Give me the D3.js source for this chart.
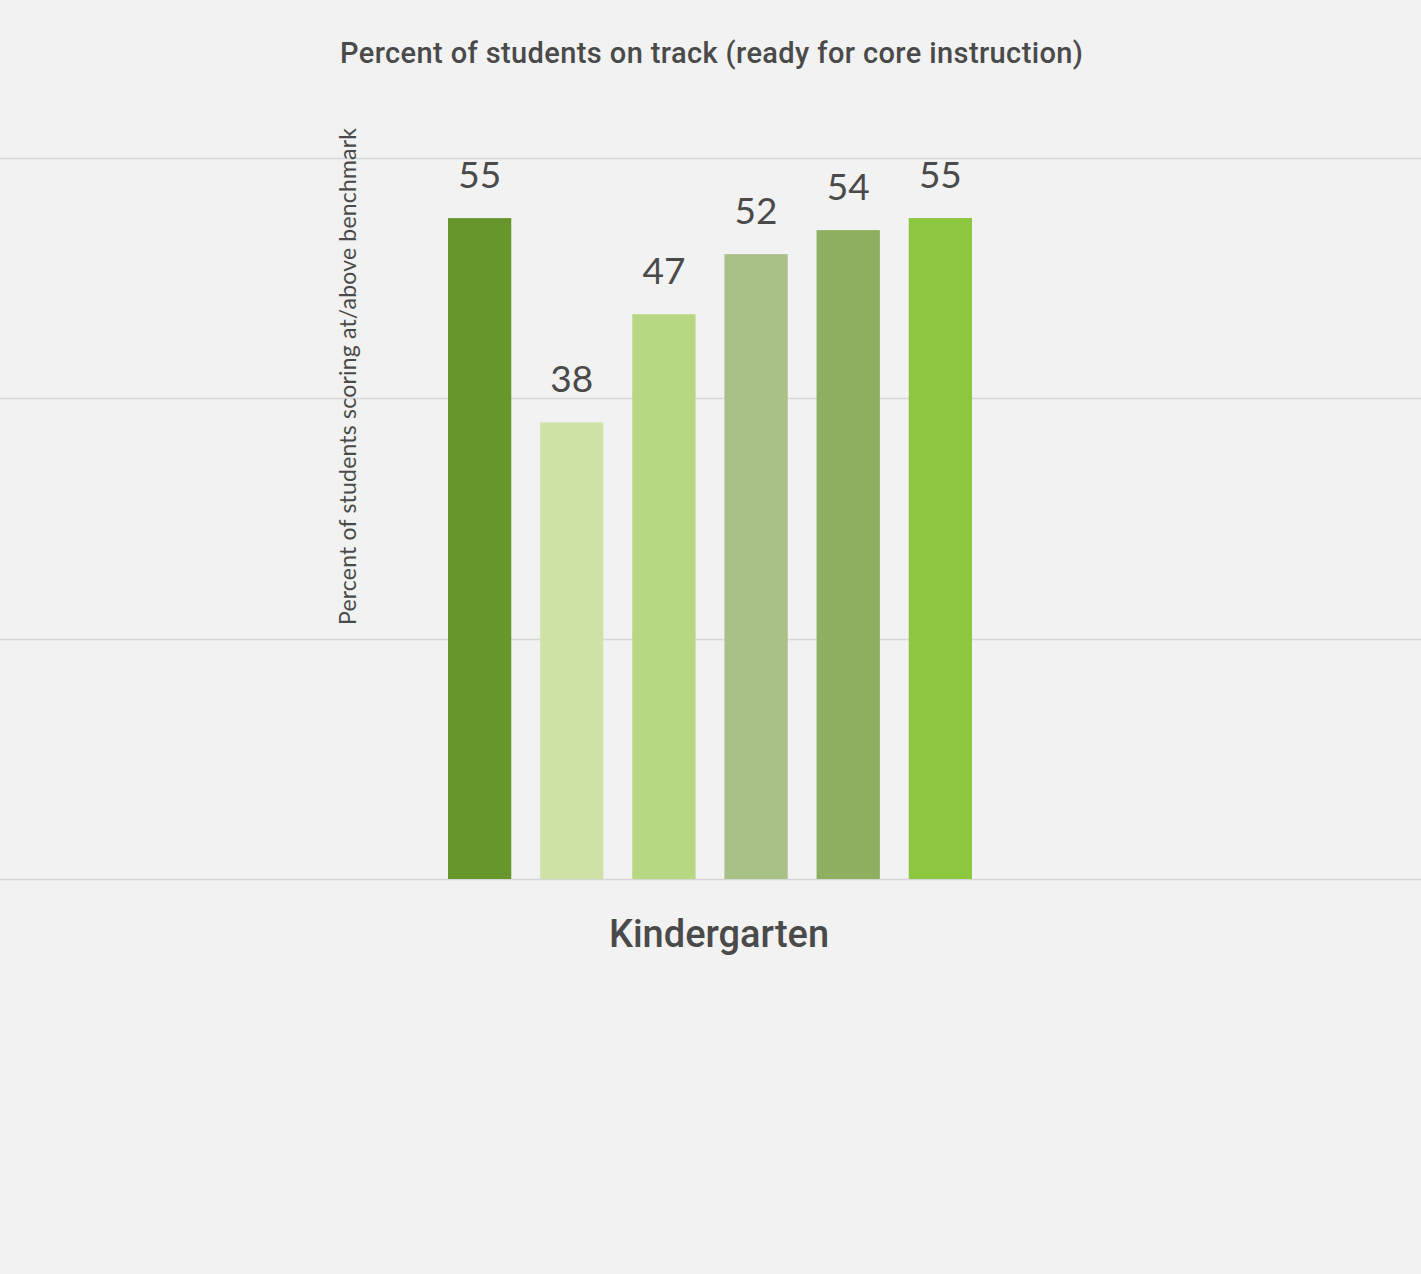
<!DOCTYPE html>
<html>
<head>
<meta charset="utf-8">
<script src="https://cdn.jsdelivr.net/npm/d3@7"></script>
<style>
  html, body { margin:0; padding:0; background:#f1f2f1; }
  .chart text { fill:#4a4a4a; }
</style>
</head>
<body>
<div class="chart"></div>
<script>
    // data
    const categories = ["Kindergarten"];
    const seriesNames = ["s1","s2","s3","s4","s5","s6"];
    const seriesValues = [55, 38, 47, 52, 54, 55];
    const seriesColors = ["#67962d","#cfe3a7","#b7d782","#a9c187","#8eae60","#8dc63f"];
    const yTicks = [0, 20, 40, 60];

    const W = 1421, H = 1274;
    const margin = {top:158, left:0, right:0, bottom:H-879};
    const width = W - margin.left - margin.right;
    const height = H - margin.top - margin.bottom;

    const svg = d3.select(".chart").append("svg")
        .attr("width", W)
        .attr("height", H)
        .append("g")
        .attr("transform", "translate(" + margin.left + "," + margin.top + ")");

    const yScale = d3.scaleLinear()
        .domain([0, 60])
        .range([height, 0]);

    // outer band for the category, inner band for the series
    const x0 = d3.scaleBand()
        .domain(categories)
        .range([448, 972]);

    const x1 = d3.scaleBand()
        .domain(seriesNames)
        .range([0, x0.bandwidth()])
        .paddingInner(0.3134)
        .paddingOuter(0);

    // gridlines
    svg.append("g")
        .attr("class","grid")
        .selectAll("line")
        .data(yTicks)
        .enter()
        .append("line")
        .attr("x1", 0)
        .attr("x2", width)
        .attr("y1", d=>Math.round(yScale(d))+0.5)
        .attr("y2", d=>Math.round(yScale(d))+0.5)
        .attr("stroke", "#d5d7d5")
        .attr("stroke-width", 1.5)

    const groups = svg.selectAll(".group")
        .data(categories)
        .enter()
        .append("g")
        .attr("class","group")
        .attr("transform", d=>`translate(${x0(d)},0)`)

    groups.selectAll(".bar")
        .data(seriesNames.map((s,i)=>({key:s, value:seriesValues[i], color:seriesColors[i]})))
        .enter()
        .append("rect")
        .attr("class","bar")
        .attr("x", d=>x1(d.key))
        .attr("y", d=>yScale(d.value))
        .attr("width", x1.bandwidth())
        .attr("height", d=>height-yScale(d.value))
        .attr("fill", d=>d.color)

    groups.selectAll(".val")
        .data(seriesNames.map((s,i)=>({key:s, value:seriesValues[i]})))
        .enter()
        .append("text")
        .attr("class","val")
        .attr("x", d=>x1(d.key)+x1.bandwidth()/2)
        .attr("y", d=>yScale(d.value)-30)
        .attr("text-anchor","middle")
        .attr("font-family","Lato, 'Open Sans', sans-serif")
        .attr("font-size", 37)
        .text(d=>d.value)

    // category label
    svg.selectAll(".cat")
        .data(categories)
        .enter()
        .append("text")
        .attr("class","cat")
        .attr("x", d=>x0(d)+x0.bandwidth()/2 + 9)
        .attr("y", height + 68)
        .attr("text-anchor","middle")
        .attr("font-family","Roboto, sans-serif")
        .attr("font-weight", 500)
        .attr("font-size", 38)
        .text(d=>d)

    // chart title
    svg.append("text")
        .attr("x", 711.5)
        .attr("y", 63 - margin.top)
        .attr("text-anchor","middle")
        .attr("font-family","Roboto, sans-serif")
        .attr("font-weight", 500)
        .attr("font-size", 29)
        .attr("textLength", 743)
        .attr("lengthAdjust", "spacing")
        .text("Percent of students on track (ready for core instruction)")

    // y axis title
    svg.append("text")
        .attr("transform", `translate(356,${376.5 - margin.top}) rotate(-90)`)
        .attr("text-anchor","middle")
        .attr("font-family","Lato, sans-serif")
        .attr("font-size", 23)
        .attr("textLength", 497)
        .attr("lengthAdjust", "spacing")
        .text("Percent of students scoring at/above benchmark")
</script>
</body>
</html>
